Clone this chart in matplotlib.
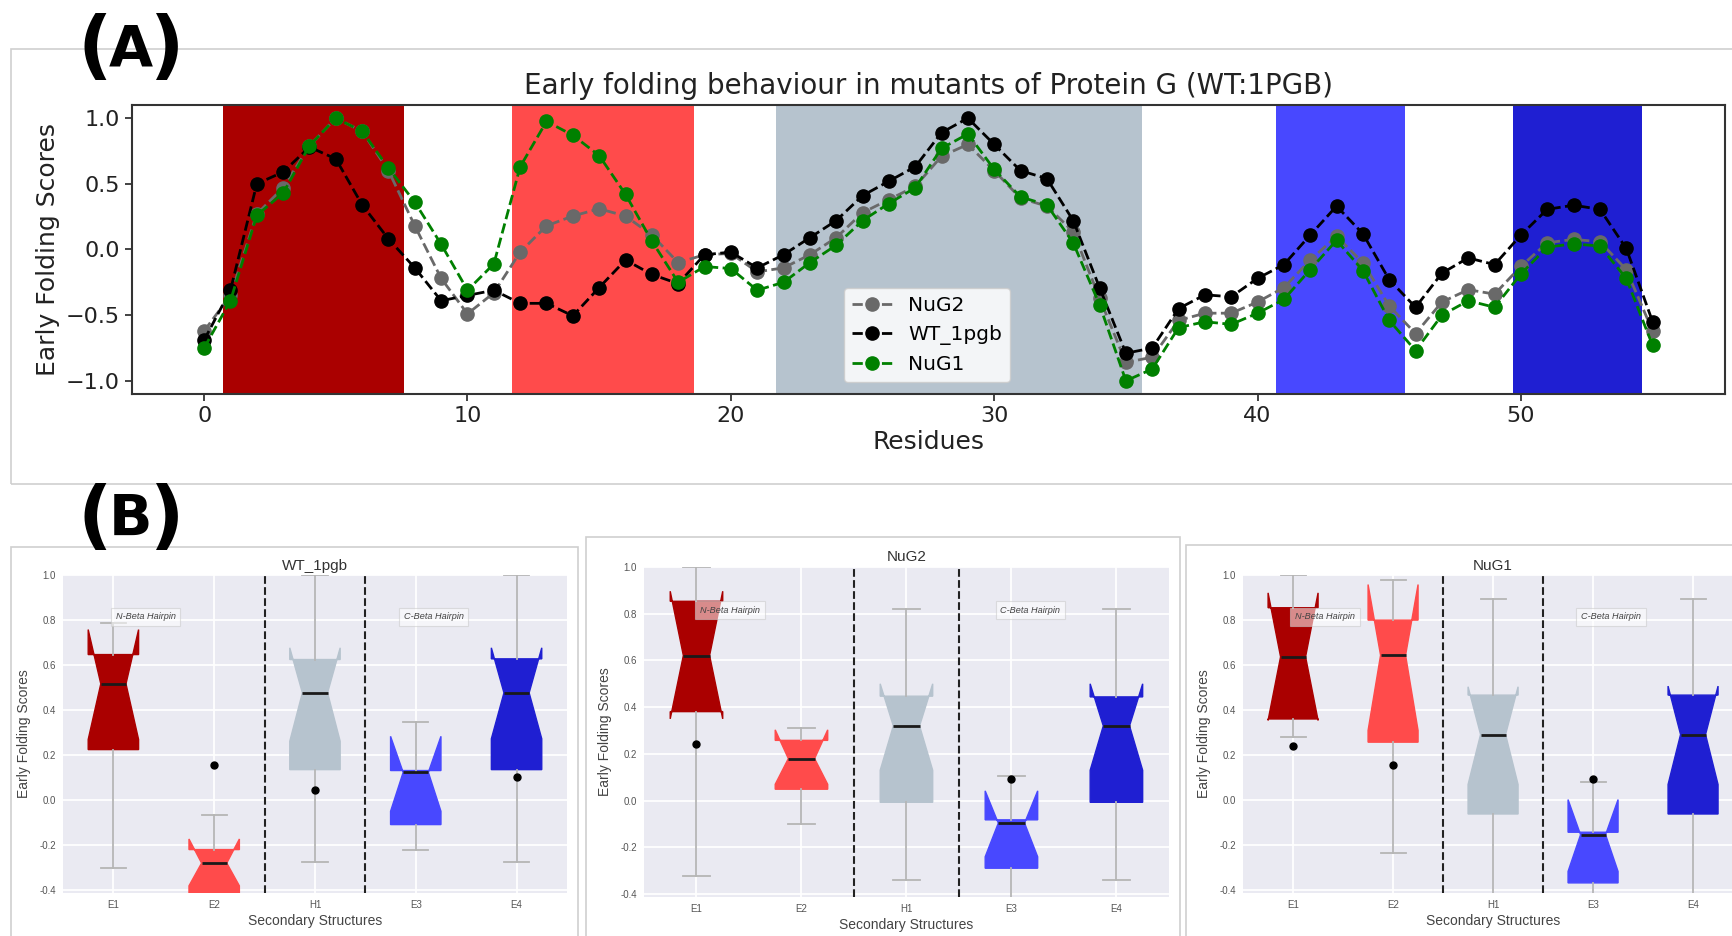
import numpy as np
import matplotlib
matplotlib.use('Agg')
import matplotlib.pyplot as plt
from matplotlib.patches import Rectangle

# ---------------- Panel A data ----------------
residues = list(range(56))
nug2 = [-0.62, -0.35, 0.27, 0.47, 0.79, 1.0, 0.90, 0.60, 0.18, -0.22,
        -0.49, -0.33, -0.02, 0.18, 0.255, 0.31, 0.255, 0.11, -0.10, -0.04,
        -0.03, -0.17, -0.14, -0.04, 0.09, 0.28, 0.38, 0.48, 0.71, 0.80,
        0.60, 0.39, 0.33, 0.135, -0.37, -0.86, -0.82, -0.54, -0.485, -0.485,
        -0.40, -0.29, -0.08, 0.10, -0.10, -0.43, -0.64, -0.40, -0.306, -0.34,
        -0.128, 0.051, 0.077, 0.059, -0.153, -0.62]
wt_1pgb = [-0.69, -0.31, 0.50, 0.59, 0.78, 0.69, 0.34, 0.08, -0.14, -0.39,
           -0.35, -0.31, -0.41, -0.41, -0.505, -0.29, -0.08, -0.19, -0.26, -0.04,
           -0.02, -0.14, -0.04, 0.09, 0.22, 0.41, 0.52, 0.63, 0.89, 1.0,
           0.80, 0.60, 0.54, 0.22, -0.29, -0.79, -0.75, -0.45, -0.345, -0.36,
           -0.22, -0.115, 0.11, 0.33, 0.12, -0.23, -0.44, -0.18, -0.064, -0.115,
           0.11, 0.306, 0.337, 0.306, 0.008, -0.55]
nug1 = [-0.75, -0.39, 0.26, 0.43, 0.79, 1.0, 0.90, 0.62, 0.36, 0.04,
        -0.31, -0.11, 0.63, 0.975, 0.87, 0.715, 0.42, 0.064, -0.25, -0.13,
        -0.145, -0.31, -0.25, -0.10, 0.033, 0.22, 0.35, 0.47, 0.77, 0.88,
        0.61, 0.40, 0.34, 0.05, -0.42, -1.0, -0.91, -0.595, -0.55, -0.57,
        -0.485, -0.38, -0.153, 0.07, -0.16, -0.54, -0.77, -0.50, -0.39, -0.44,
        -0.186, 0.018, 0.043, 0.026, -0.22, -0.73]

span_starts = [0.7, 11.7, 21.7, 40.7, 49.7]
span_ends = [7.6, 18.6, 35.6, 45.6, 54.6]
ss_colors = ['#AA0000', '#FF4B4B', '#B6C3CE', '#4848FF', '#1F1FD2']

# ---------------- Panel B data ----------------
ss_labels = ['E1', 'E2', 'H1', 'E3', 'E4']
panel_titles = ['WT_1pgb', 'NuG2', 'NuG1']

wt_med = [0.517, -0.279, 0.477, 0.124, 0.477]
wt_q1 = [0.225, -0.42, 0.136, -0.108, 0.136]
wt_q3 = [0.647, -0.219, 0.625, 0.132, 0.628]
wt_lo = [-0.30, -0.50, -0.276, -0.219, -0.276]
wt_hi = [0.788, -0.067, 1.0, 0.347, 1.0]
wt_cilo = [0.27, -0.38, 0.262, -0.049, 0.273]
wt_cihi = [0.758, -0.172, 0.677, 0.284, 0.677]
wt_fl = [[], [0.156], [0.047], [], [0.104]]

g2_med = [0.621, 0.18, 0.32, -0.096, 0.32]
g2_q1 = [0.381, 0.049, -0.007, -0.289, -0.007]
g2_q3 = [0.853, 0.258, 0.447, -0.082, 0.444]
g2_lo = [-0.324, -0.10, -0.341, -0.50, -0.341]
g2_hi = [1.0, 0.313, 0.822, 0.106, 0.822]
g2_cilo = [0.35, 0.07, 0.13, -0.24, 0.13]
g2_cihi = [0.896, 0.303, 0.50, 0.042, 0.50]
g2_fl = [[0.243], [], [], [0.092], []]

g1_med = [0.637, 0.644, 0.292, -0.153, 0.292]
g1_q1 = [0.361, 0.258, -0.061, -0.367, -0.061]
g1_q3 = [0.855, 0.80, 0.467, -0.142, 0.467]
g1_lo = [0.28, -0.234, -0.50, -0.50, -0.50]
g1_hi = [1.0, 0.98, 0.892, 0.081, 0.892]
g1_cilo = [0.355, 0.31, 0.07, -0.316, 0.07]
g1_cihi = [0.921, 0.958, 0.504, 0.003, 0.507]
g1_fl = [[0.243], [0.156], [], [0.095], []]

# ---------------- Figure ----------------
W, H = 1733, 936
fig = plt.figure(figsize=(W / 100, H / 100), dpi=100)

# frames
border = '#cfcfcf'
for (x0, y0, w, h) in [(0.0063, 0.4829, 1.0, 0.4647),
                       (0.0063, -0.01, 0.3272, 0.4256),
                       (0.3381, -0.01, 0.3428, 0.4363),
                       (0.6844, -0.01, 0.40, 0.4277)]:
    fig.patches.append(Rectangle((x0, y0), w, h, transform=fig.transFigure,
                                 fill=False, edgecolor=border, lw=1.2, zorder=0))

# ---- Panel A ----
axA = fig.add_axes([0.076, 0.5791, 0.9194, 0.3087])
for s, e, c in zip(span_starts, span_ends, ss_colors):
    axA.axvspan(s, e, color=c, lw=0, zorder=0)
l2, = axA.plot(residues, nug2, '--o', color='dimgray', lw=2, ms=9.5, label='NuG2')
lw_, = axA.plot(residues, wt_1pgb, '--o', color='black', lw=2, ms=9.5, label='WT_1pgb')
l1, = axA.plot(residues, nug1, '--o', color='green', lw=2, ms=9.5, label='NuG1')
axA.set_xlim(-2.75, 57.75)
axA.set_ylim(-1.1, 1.1)
axA.set_yticks([-1.0, -0.5, 0.0, 0.5, 1.0])
axA.set_xticks([0, 10, 20, 30, 40, 50])
axA.tick_params(labelsize=16, length=5, width=1.2, colors='#222222')
for sp in axA.spines.values():
    sp.set_linewidth(1.5)
    sp.set_color('#333333')
axA.set_title('Early folding behaviour in mutants of Protein G (WT:1PGB)', fontsize=20,
              pad=8, color='#222222')
axA.set_xlabel('Residues', fontsize=18, color='#222222', labelpad=3)
axA.set_ylabel('Early Folding Scores', fontsize=18, color='#222222')
axA.legend(handles=[l2, lw_, l1], loc='lower left', bbox_to_anchor=(0.4406, 0.005),
           fontsize=14.5, framealpha=0.85)

# panel labels: large parentheses with a slightly smaller bold letter
for letter, base in [('A', 70), ('B', 540)]:
    yb_paren = 1 - base / H
    yb_letter = 1 - (base - 4) / H
    fig.text(95 / W, yb_paren, '(', fontsize=54, fontweight='bold', ha='center', va='baseline')
    fig.text(131 / W, yb_letter, letter, fontsize=41, fontweight='bold', ha='center', va='baseline')
    fig.text(167 / W, yb_paren, ')', fontsize=54, fontweight='bold', ha='center', va='baseline')

# ---- Panel B ----
fontB = ['Liberation Sans', 'DejaVu Sans']
b_positions = [[0.03635, 0.0459, 0.2908, 0.3397],
               [0.3716, 0.0417, 0.3029, 0.3526],
               [0.7173, 0.0459, 0.2885, 0.3397]]
panel_data = [
    (wt_med, wt_q1, wt_q3, wt_lo, wt_hi, wt_cilo, wt_cihi, wt_fl),
    (g2_med, g2_q1, g2_q3, g2_lo, g2_hi, g2_cilo, g2_cihi, g2_fl),
    (g1_med, g1_q1, g1_q3, g1_lo, g1_hi, g1_cilo, g1_cihi, g1_fl),
]

for pos, title, data in zip(b_positions, panel_titles, panel_data):
    med, q1, q3, lo, hi, cilo, cihi, fl = data
    ax = fig.add_axes(pos)
    ax.set_facecolor('#EAEAF2')
    ax.set_axisbelow(True)
    ax.grid(True, color='white', lw=1.3)
    for sp in ax.spines.values():
        sp.set_visible(False)
    stats = []
    for i in range(len(ss_labels)):
        stats.append(dict(med=med[i], q1=q1[i], q3=q3[i], whislo=lo[i], whishi=hi[i],
                          cilo=cilo[i], cihi=cihi[i], fliers=fl[i], label=ss_labels[i]))
    bp = ax.bxp(stats, positions=[1, 2, 3, 4, 5], widths=0.5, shownotches=True,
                patch_artist=True,
                medianprops=dict(color='#1a1a1a', lw=2),
                whiskerprops=dict(color='#b5b5b5', lw=1.3),
                capprops=dict(color='#b5b5b5', lw=1.3),
                flierprops=dict(marker='o', markerfacecolor='black',
                                markeredgecolor='black', markersize=5))
    for patch, c in zip(bp['boxes'], ss_colors):
        patch.set_facecolor(c)
        patch.set_edgecolor(c)
    ax.axvline(2.5, color='#222222', ls='--', lw=1.5)
    ax.axvline(3.5, color='#222222', ls='--', lw=1.5)
    ax.set_xlim(0.5, 5.5)
    ax.set_ylim(-0.412, 1.0)
    ax.set_yticks([-0.4, -0.2, 0.0, 0.2, 0.4, 0.6, 0.8, 1.0])
    ax.set_yticklabels(['-0.4', '-0.2', '0.0', '0.2', '0.4', '0.6', '0.8', '1.0'])
    ax.tick_params(length=0, labelsize=7, labelcolor='#555555', pad=5)
    for t in ax.get_xticklabels() + ax.get_yticklabels():
        t.set_family(fontB)
    ax.set_title(title, fontsize=11, family=fontB, color='#333333', pad=4)
    ax.set_xlabel('Secondary Structures', fontsize=10, family=fontB, color='#444444', labelpad=3)
    ax.set_ylabel('Early Folding Scores', fontsize=10, family=fontB, color='#444444', labelpad=6)
    bbox = dict(boxstyle='square,pad=0.5', facecolor='white', alpha=0.55, edgecolor='#c8c8c8', lw=0.8)
    ax.text(1.32, 0.815, 'N-Beta Hairpin', fontsize=6.6, style='italic', ha='center', va='center',
            family=fontB, color='#444444', bbox=bbox, zorder=5)
    ax.text(4.18, 0.815, 'C-Beta Hairpin', fontsize=6.6, style='italic', ha='center', va='center',
            family=fontB, color='#444444', bbox=bbox, zorder=5)

fig.savefig('out.png', dpi=100)
